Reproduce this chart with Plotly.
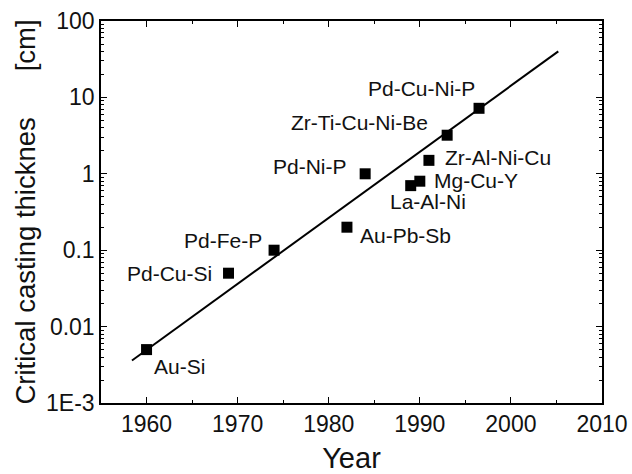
import math
import plotly.graph_objects as go

# Data
alloys = ["Au-Si", "Pd-Cu-Si", "Pd-Fe-P", "Au-Pb-Sb", "Pd-Ni-P", "La-Al-Ni",
          "Mg-Cu-Y", "Zr-Al-Ni-Cu", "Zr-Ti-Cu-Ni-Be", "Pd-Cu-Ni-P"]
years = [1960, 1969, 1974, 1982, 1984, 1989, 1990, 1991, 1993, 1996.5]
thickness_cm = [0.005, 0.05, 0.1, 0.2, 1.0, 0.7, 0.8, 1.5, 3.2, 7.2]

fit_years = [1958.4, 2005.2]
fit_thickness = [0.0036, 40]

y_tickvals = [0.001, 0.01, 0.1, 1, 10, 100]
y_ticktext = ["1E-3", "0.01", "0.1", "1", "10", "100"]
x_tickvals = [1960, 1970, 1980, 1990, 2000, 2010]

# label placement (pixel offsets from the point)
label_anchor = ["left", "right", "right", "left", "right", "center",
                "left", "left", "right", "right"]
label_dx = [5, -15, -10, 11, -16, 17, 12, 14, -17, -2]
label_dy = [-17, 0, 10, -8, 7, -16, 1, 3, 13, 20]

FONT = "Liberation Sans"

fig = go.Figure()
fig.add_trace(go.Scatter(x=fit_years, y=fit_thickness, mode="lines",
                         line=dict(color="black", width=2), showlegend=False,
                         hoverinfo="skip"))
fig.add_trace(go.Scatter(x=years, y=thickness_cm, mode="markers",
                         marker=dict(symbol="square", size=11, color="black"),
                         showlegend=False, text=alloys))

for name, x, y, anc, dx, dy in zip(alloys, years, thickness_cm, label_anchor, label_dx, label_dy):
    fig.add_annotation(x=x, y=math.log10(y), yref="y", xref="x", text=name, showarrow=False,
                       xanchor=anc, yanchor="middle", xshift=dx, yshift=dy,
                       font=dict(family=FONT, size=21, color="#111111"))

minor_y = []
for e in range(-3, 2):
    for m in range(2, 10):
        minor_y.append(m * 10 ** e)

fig.update_xaxes(range=[1955, 2010], tickvals=x_tickvals, ticks="inside", ticklen=6,
                 tickwidth=1.3, tickcolor="black", showline=True, linecolor="black",
                 linewidth=1.5, mirror="allticks", showgrid=False, zeroline=False,
                 automargin=False,
                 tickfont=dict(family=FONT, size=23, color="#111111"),
                 minor=dict(tickvals=[1955, 1965, 1975, 1985, 1995, 2005], ticks="inside",
                            ticklen=3, tickcolor="black", tickwidth=1.3),
                 title=dict(text="Year", font=dict(family=FONT, size=29, color="#111111"),
                            standoff=11))
fig.update_yaxes(type="log", range=[-3, 2], tickvals=y_tickvals, ticktext=y_ticktext,
                 ticks="inside", ticklen=6, tickwidth=1.3, tickcolor="black",
                 showline=True, linecolor="black", linewidth=1.5, mirror="allticks",
                 showgrid=False, zeroline=False, automargin=False,
                 tickfont=dict(family=FONT, size=23, color="#111111"),
                 minor=dict(tickvals=minor_y, ticks="inside", ticklen=3,
                            tickcolor="black", tickwidth=1),
                 title=dict(text="Critical casting thicknes\u00a0\u00a0\u00a0\u00a0\u00a0\u00a0[cm]",
                            font=dict(family=FONT, size=27.5, color="#111111"), standoff=2))

fig.update_layout(width=632, height=474, plot_bgcolor="white", paper_bgcolor="white",
                  margin=dict(l=101, r=30, t=21, b=71))

fig.write_html("out.html", config={"displayModeBar": False},
               post_script="document.body.style.margin='0';")
